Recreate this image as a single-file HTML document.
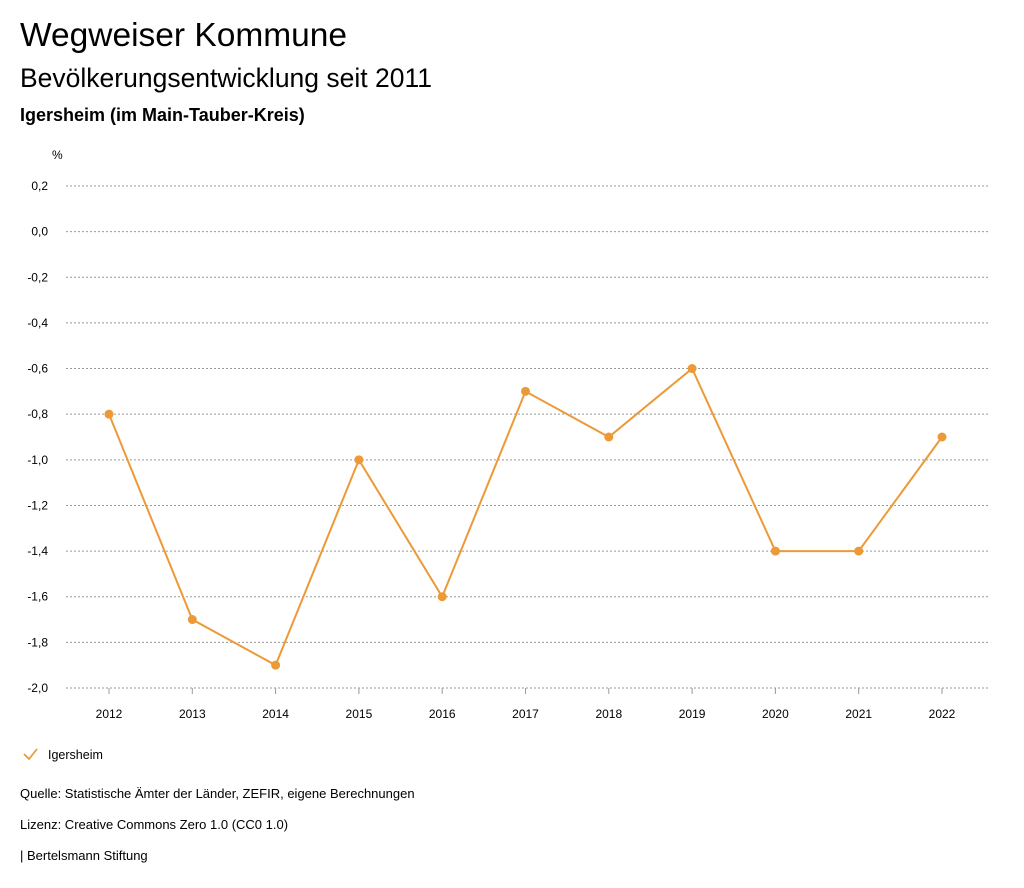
<!DOCTYPE html>
<html><head><meta charset="utf-8"><style>
body{margin:0;background:#fff;font-family:"Liberation Sans",sans-serif;color:#000;}
#wrap{position:relative;width:1024px;height:888px;overflow:hidden;}
.t{position:absolute;left:20px;white-space:nowrap;}
</style></head><body>
<div id="wrap">
<div class="t" style="top:17px;font-size:33.5px;">Wegweiser Kommune</div>
<div class="t" style="top:63px;font-size:26.5px;">Bevölkerungsentwicklung seit 2011</div>
<div class="t" style="top:105px;font-size:18px;font-weight:bold;">Igersheim (im Main-Tauber-Kreis)</div>
<svg id="chart" width="1024" height="888" style="position:absolute;left:0;top:0"></svg>
<div class="t" style="top:786px;font-size:13px;">Quelle: Statistische Ämter der Länder, ZEFIR, eigene Berechnungen</div>
<div class="t" style="top:817px;font-size:13px;">Lizenz: Creative Commons Zero 1.0 (CC0 1.0)</div>
<div class="t" style="top:848px;font-size:13px;">| Bertelsmann Stiftung</div>
</div>
<script>
const years=["2012","2013","2014","2015","2016","2017","2018","2019","2020","2021","2022"];
const values=[-0.8,-1.7,-1.9,-1.0,-1.6,-0.7,-0.9,-0.6,-1.4,-1.4,-0.9];
const yTicks=[0.2,0.0,-0.2,-0.4,-0.6,-0.8,-1.0,-1.2,-1.4,-1.6,-1.8,-2.0];
const NS="http://www.w3.org/2000/svg";
const svg=document.getElementById('chart');
const color="#ec9a38";
function y(v){return 186+(0.2-v)/2.2*502;}
function x(i){return 109+i*83.3;}
function mk(t,a){const e=document.createElementNS(NS,t);for(const k in a)e.setAttribute(k,a[k]);svg.appendChild(e);return e;}
const u=mk('text',{x:52,y:159,'font-size':12});u.textContent='%';


yTicks.forEach(v=>{
 const g=mk('line',{x1:66,x2:990,y1:y(v),y2:y(v),stroke:'#999','stroke-dasharray':'2,2','stroke-width':1});
 
 
 const t=mk('text',{x:48,y:y(v)+4,'font-size':12,'text-anchor':'end'});
 t.textContent=v.toFixed(1).replace('.',',').replace('-0,0','0,0');
 
 
});
years.forEach((yr,i)=>{
 const tk=mk('line',{x1:x(i),x2:x(i),y1:688,y2:694,stroke:'#999'});
 
 
 const t=mk('text',{x:x(i),y:718,'font-size':12,'text-anchor':'middle'});
 t.textContent=yr;
 
 
});
const p=mk('polyline',{points:values.map((v,i)=>x(i)+','+y(v)).join(' '),fill:'none',stroke:color,'stroke-width':2});


values.forEach((v,i)=>{
 const c=mk('circle',{cx:x(i),cy:y(v),r:4.5,fill:color});
 
 
});
const lg=mk('polyline',{points:'24,754 29,759 37,749',fill:'none',stroke:color,'stroke-width':1.8});


const lt=mk('text',{x:48,y:759,'font-size':12.5});lt.textContent='Igersheim';


</script>
</body></html>
